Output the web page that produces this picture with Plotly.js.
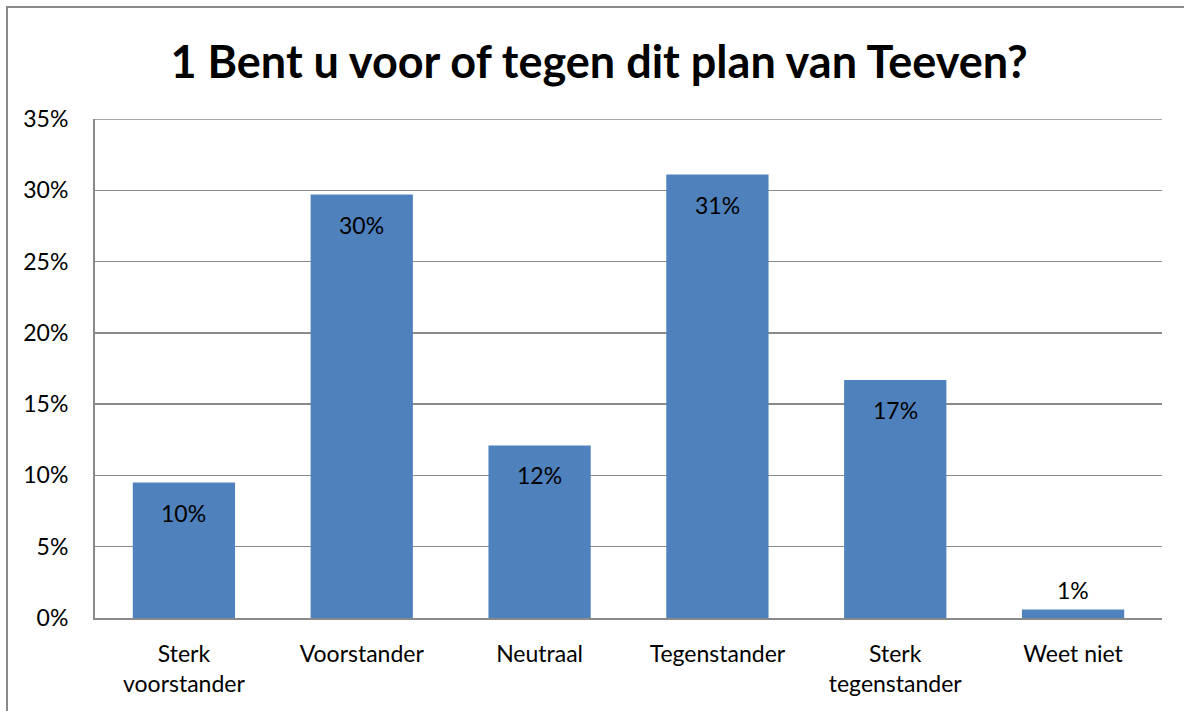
<!DOCTYPE html>
<html><head><meta charset="utf-8">
<script src="https://cdn.plot.ly/plotly-3.0.1.min.js"></script>
<style>
html,body{margin:0;padding:0;background:#fff;overflow:hidden;}
#frame{position:absolute;left:6px;top:6px;width:1200px;height:730px;border:2px solid #8a8a8a;box-sizing:border-box;}
#chart{position:absolute;left:0;top:0;width:1184px;height:711px;}
</style></head>
<body>
<div id="frame"></div>
<div id="chart"></div>
<script>
const categories = ["Sterk<br>voorstander","Voorstander","Neutraal","Tegenstander","Sterk<br>tegenstander","Weet niet"];
const values = [9.5, 29.7, 12.1, 31.1, 16.7, 0.6];
const labelInside = [true, true, true, true, true, false];
const tickVals = [0,5,10,15,20,25,30,35];
const tickText = ["0%","5%","10%","15%","20%","25%","30%","35%"];
const titleText = "1 Bent u voor of tegen dit plan van Teeven?";
const yMax = 35;

const font = "Lato, 'Liberation Sans', sans-serif";
const trace = {
  type: "bar", x: categories, y: values,
  marker: {color: "#4F81BD"}, hoverinfo: "none"
};
const annotations = categories.map((c, i) => ({
  x: c, y: values[i], xref: "x", yref: "y",
  text: Math.round(values[i]) + "%", showarrow: false,
  yshift: labelInside[i] ? -30 : 19,
  font: {family: font, size: 23, color: "#000"}
}));
const layout = {
  width: 1184, height: 711,
  margin: {l: 95, r: 22, t: 119, b: 93},
  paper_bgcolor: "rgba(0,0,0,0)", plot_bgcolor: "rgba(0,0,0,0)",
  bargap: 0.425,
  showlegend: false,
  title: {text: "<b>" + titleText + "</b>", x: 0.506, xanchor: "center", y: 0.912, yanchor: "middle",
          font: {family: font, size: 45, color: "#000"}},
  xaxis: {showgrid: false, showline: true, linecolor: "#8a8a8a", linewidth: 2,
          tickfont: {family: font, size: 23, color: "#000"}, ticks: "", ticklabelstandoff: 14, fixedrange: true},
  yaxis: {range: [0, yMax], tickvals: tickVals, ticktext: tickText, showgrid: true, gridcolor: "#8a8a8a", gridwidth: 1.5,
          showline: true, linecolor: "#8a8a8a", linewidth: 2, zeroline: false,
          tickfont: {family: font, size: 23, color: "#000"}, ticks: "", ticklabelstandoff: 20, fixedrange: true},
  shapes: [{type: "line", xref: "paper", yref: "y", x0: 0, x1: 1, y0: yMax, y1: yMax,
            line: {color: "#8a8a8a", width: 1.5}, layer: "below"}],
  annotations: annotations
};
Plotly.newPlot("chart", [trace], layout, {displayModeBar: false, staticPlot: true});
</script>
</body></html>
